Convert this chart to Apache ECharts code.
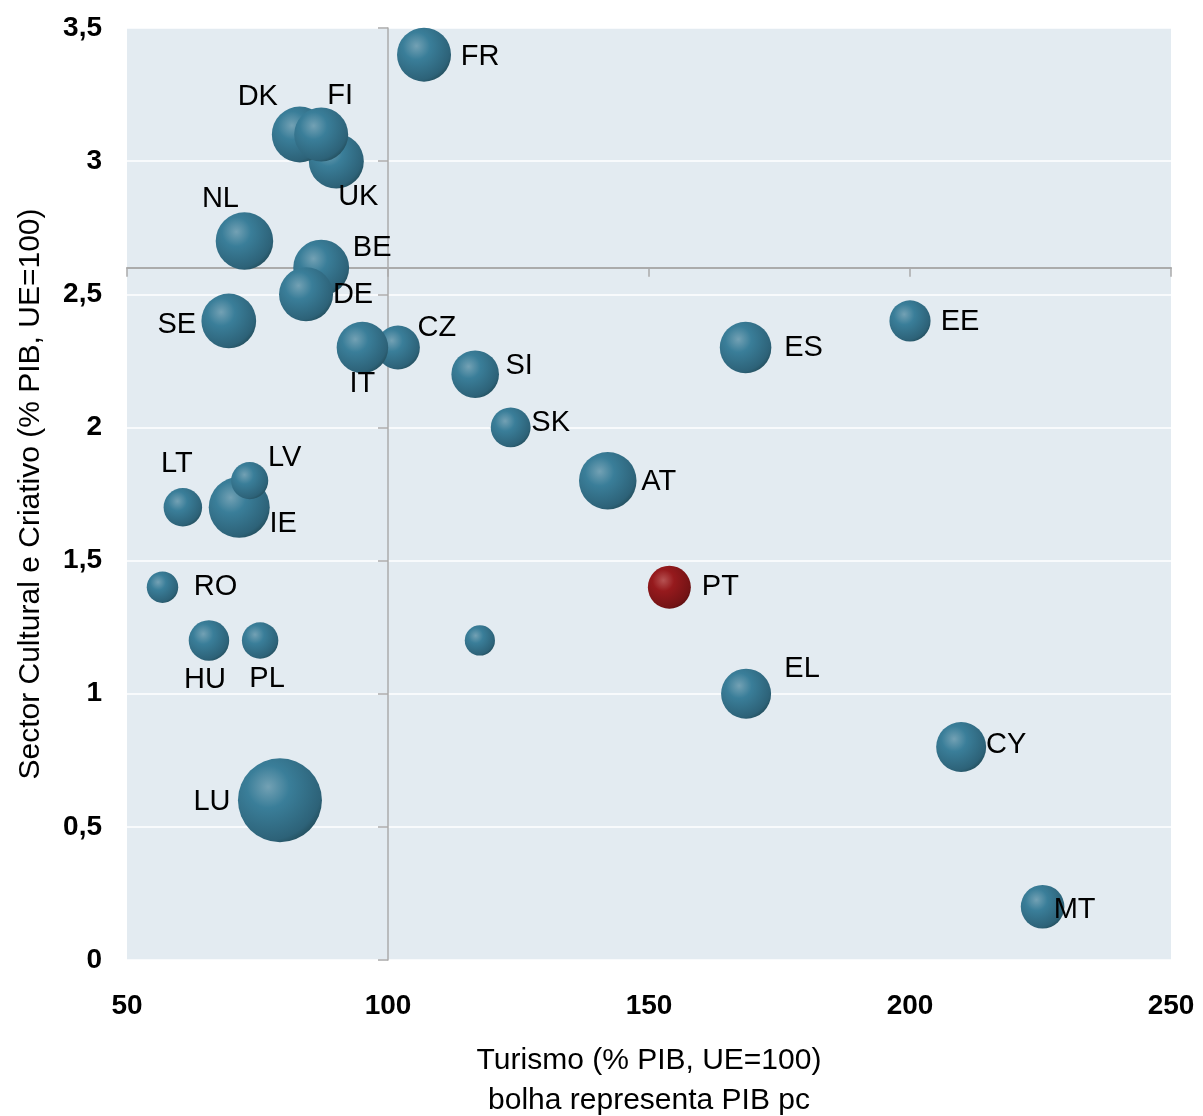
<!DOCTYPE html>
<html>
<head>
<meta charset="utf-8">
<title>Turismo vs Sector Cultural e Criativo</title>
<script src="https://cdn.jsdelivr.net/npm/echarts@6/dist/echarts.min.js"></script>
<style>
  html, body { margin: 0; padding: 0; background: #ffffff; }
  #chart { width: 1203px; height: 1116px; }
</style>
</head>
<body>
<div id="chart"></div>
<script>
// Countries, drawn in this order (later bubbles sit on top)
const countries = ['LU','LT','IE','LV','RO','HU','PL','SE','NL','UK','DK','FI','BE','DE','CZ','IT','FR','SI','BG','SK','AT','PT','ES','EL','EE','CY','MT'];
// Turismo (% PIB, UE=100)
const turismo   = [79.3, 60.7, 71.5, 73.5, 56.8, 65.7, 75.5, 69.5, 72.5, 90.1, 83.1, 87.2, 87.2, 84.3, 101.9, 95.1, 106.9, 116.7, 117.6, 123.5, 142.1, 153.9, 168.5, 168.6, 200.0, 209.8, 225.4];
// Sector Cultural e Criativo (% PIB, UE=100)
const cultural  = [0.6, 1.7, 1.7, 1.8, 1.4, 1.2, 1.2, 2.4, 2.7, 3.0, 3.1, 3.1, 2.6, 2.5, 2.3, 2.3, 3.4, 2.2, 1.2, 2.0, 1.8, 1.4, 2.3, 1.0, 2.4, 0.8, 0.2];
// PIB per capita (UE=100) – bubble area
const pibPc     = [271, 57, 143, 53, 38, 63, 51, 115, 127, 116, 120, 112, 120, 112, 74, 102, 112, 87, 35, 61, 127, 71, 102, 96, 65, 96, 73];
// Countries left without a label
const unlabeled = ['BG'];
const highlighted = 'PT';

const xTicks = { min: 50, max: 250, step: 50 };
const yTicks = { min: 0, max: 3.5, step: 0.5 };
// Where the crossing axis lines sit
const crossX = 100;
const crossY = 2.6;

// ---- styling ----
const FONT = "'Liberation Sans', Arial, Helvetica, sans-serif";
const BUBBLE_K = 2.551; // radius per sqrt(PIB pc)

// label placement relative to bubble centre (px)
const labelOffset = {
  LU: [-68, 2], LT: [-6, -43], IE: [44, 17], LV: [35, -23], RO: [53, 0],
  HU: [-4, 40], PL: [7, 39], SE: [-52, 4], NL: [-24, -42], UK: [22, 36],
  DK: [-42, -38], FI: [19, -39], BE: [51, -20], DE: [47, 1], CZ: [39, -20],
  IT: [0, 36], FR: [56, 2], SI: [44, -8], SK: [40, -4], AT: [51, 1],
  PT: [51, 0], ES: [58, 0], EL: [56, -25], EE: [50, 1], CY: [45, -2], MT: [32, 3]
};

function sphere(light, mid, dark, edge) {
  return {
    type: 'radial', x: 0.36, y: 0.34, r: 0.72,
    colorStops: [
      { offset: 0, color: light },
      { offset: 0.35, color: mid },
      { offset: 0.88, color: dark },
      { offset: 1, color: edge }
    ]
  };
}
const blueBall = sphere('#73A1B4', '#3A7E99', '#2D6278', '#24505F');
const redBall = sphere('#B65252', '#961A1D', '#741315', '#5E0F11');

const points = countries.map((c, i) => ({
  name: c,
  value: [turismo[i], cultural[i], pibPc[i]],
  itemStyle: { color: c === highlighted ? redBall : blueBall, opacity: 1 },
  label: {
    show: unlabeled.indexOf(c) < 0,
    offset: labelOffset[c] || [0, 0]
  }
}));

const axisGray = '#ABABAB';

const chart = echarts.init(document.getElementById('chart'), null, { renderer: 'canvas' });
chart.setOption({
  animation: false,
  backgroundColor: '#ffffff',
  grid: {
    left: 127, right: 32, top: 28, bottom: 156,
    outerBoundsMode: 'none', containLabel: false,
    show: true, backgroundColor: '#E3EBF1', borderWidth: 0
  },
  xAxis: [
    { // labelled axis along the bottom
      type: 'value', min: xTicks.min, max: xTicks.max, interval: xTicks.step,
      position: 'bottom',
      axisLine: { show: false, onZero: false },
      axisTick: { show: false },
      splitLine: { show: false },
      axisLabel: { margin: 32, fontSize: 28, fontWeight: 'bold', color: '#000', fontFamily: FONT },
      name: 'Turismo (% PIB, UE=100)\nbolha representa PIB pc',
      nameLocation: 'middle', nameGap: 81,
      nameTextStyle: { fontSize: 30, color: '#000', fontFamily: FONT, lineHeight: 40 }
    },
    { // horizontal crossing line with ticks
      type: 'value', min: xTicks.min, max: xTicks.max, interval: xTicks.step,
      position: 'bottom',
      axisLine: { show: true, onZero: true, onZeroAxisIndex: 2, lineStyle: { color: axisGray, width: 2 } },
      axisTick: { show: true, length: 9, lineStyle: { color: axisGray, width: 1.5 } },
      axisLabel: { show: false },
      splitLine: { show: false }
    },
    { // helper scale: zero sits at the vertical crossing value
      type: 'value', min: xTicks.min - crossX, max: xTicks.max - crossX,
      show: false, axisLine: { onZero: false }, splitLine: { show: false }
    }
  ],
  yAxis: [
    { // labelled axis on the left with white gridlines
      type: 'value', min: yTicks.min, max: yTicks.max, interval: yTicks.step,
      position: 'left',
      axisLine: { show: false, onZero: false },
      axisTick: { show: false },
      splitLine: { show: true, lineStyle: { color: '#ffffff', width: 1.5 } },
      axisLabel: {
        margin: 25, fontSize: 28, fontWeight: 'bold', color: '#000', fontFamily: FONT,
        formatter: v => String(v).replace('.', ',')
      },
      name: 'Sector Cultural e Criativo (% PIB, UE=100)',
      nameLocation: 'middle', nameGap: 81, nameRotate: 90,
      nameTextStyle: { fontSize: 30, color: '#000', fontFamily: FONT }
    },
    { // vertical crossing line with ticks
      type: 'value', min: yTicks.min, max: yTicks.max, interval: yTicks.step,
      position: 'left',
      axisLine: { show: true, onZero: true, onZeroAxisIndex: 2, lineStyle: { color: axisGray, width: 1.5 } },
      axisTick: { show: true, length: 10, lineStyle: { color: axisGray, width: 1.5 } },
      axisLabel: { show: false },
      splitLine: { show: false }
    },
    { // helper scale: zero sits at the horizontal crossing value
      type: 'value', min: yTicks.min - crossY, max: yTicks.max - crossY,
      show: false, axisLine: { onZero: false }, splitLine: { show: false }
    }
  ],
  series: [{
    type: 'scatter',
    xAxisIndex: 0, yAxisIndex: 0,
    data: points,
    symbol: 'circle',
    symbolSize: v => 2 * BUBBLE_K * Math.sqrt(v[2]),
    itemStyle: { opacity: 1 },
    label: {
      show: true, position: 'inside',
      formatter: p => p.name,
      fontSize: 29, color: '#000', fontFamily: FONT
    },
    emphasis: { disabled: true }
  }]
});
</script>
</body>
</html>
